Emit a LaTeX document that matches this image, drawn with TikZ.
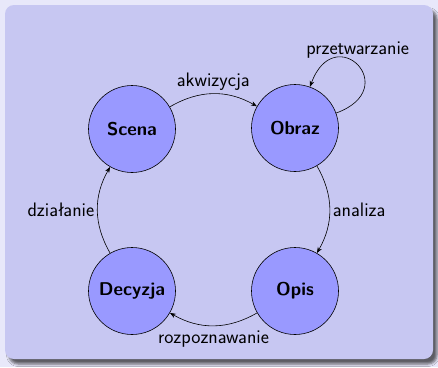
\documentclass[tikz,border=0pt]{standalone}
\usepackage{fontspec}
\usetikzlibrary{arrows.meta,shadows.blur}
\definecolor{pagebg}{HTML}{E8E8FA}
\definecolor{blockbg}{HTML}{C7C7F2}
\definecolor{statefill}{HTML}{9999FF}
\tikzset{
  x=1pt, y=-1pt,
  state/.style={circle, draw=black, line width=0.6pt, fill=statefill,
    minimum size=87pt, inner sep=0pt, font=\fontsize{18.5}{22}\selectfont\sffamily\bfseries},
  trans/.style={-{Stealth[length=6pt,width=4.5pt]}, line width=0.6pt, black},
  lbl/.style={font=\fontsize{19.5}{23}\selectfont\sffamily, text=black, inner sep=3pt}
}
\begin{document}
\begin{tikzpicture}
  % page and block background
  \fill[pagebg] (0,0) rectangle (438,367);
  \useasboundingbox (0,0) rectangle (438,367);
  \fill[blockbg, rounded corners=9pt,
    blur shadow={shadow xshift=4pt, shadow yshift=-5pt, shadow blur radius=2.5pt, shadow opacity=60}]
    (5,5) rectangle (433,359);

  % states
  \node[state] (Scena)   at (132,129) {Scena};
  \node[state] (Obraz)   at (295,128) {Obraz};
  \node[state] (Opis)    at (295,291) {Opis};
  \node[state] (Decyzja) at (132,291) {Decyzja};

  % transitions
  \draw[trans] (Scena) to[bend left=30] node[lbl, above] {akwizycja} (Obraz);
  \draw[trans] (Obraz.20) .. controls +(20:72pt) and +(70:72pt) .. (Obraz.70)
    node[lbl, above, pos=0.5, yshift=4pt] {przetwarzanie};
  \draw[trans] (Obraz) to[bend left=30] node[lbl, right] {analiza} (Opis);
  \draw[trans] (Opis) to[bend left=30] node[lbl, below, yshift=-2pt] {rozpoznawanie} (Decyzja);
  \draw[trans] (Decyzja) to[bend left=30] node[lbl, left] {działanie} (Scena);
\end{tikzpicture}
\end{document}
